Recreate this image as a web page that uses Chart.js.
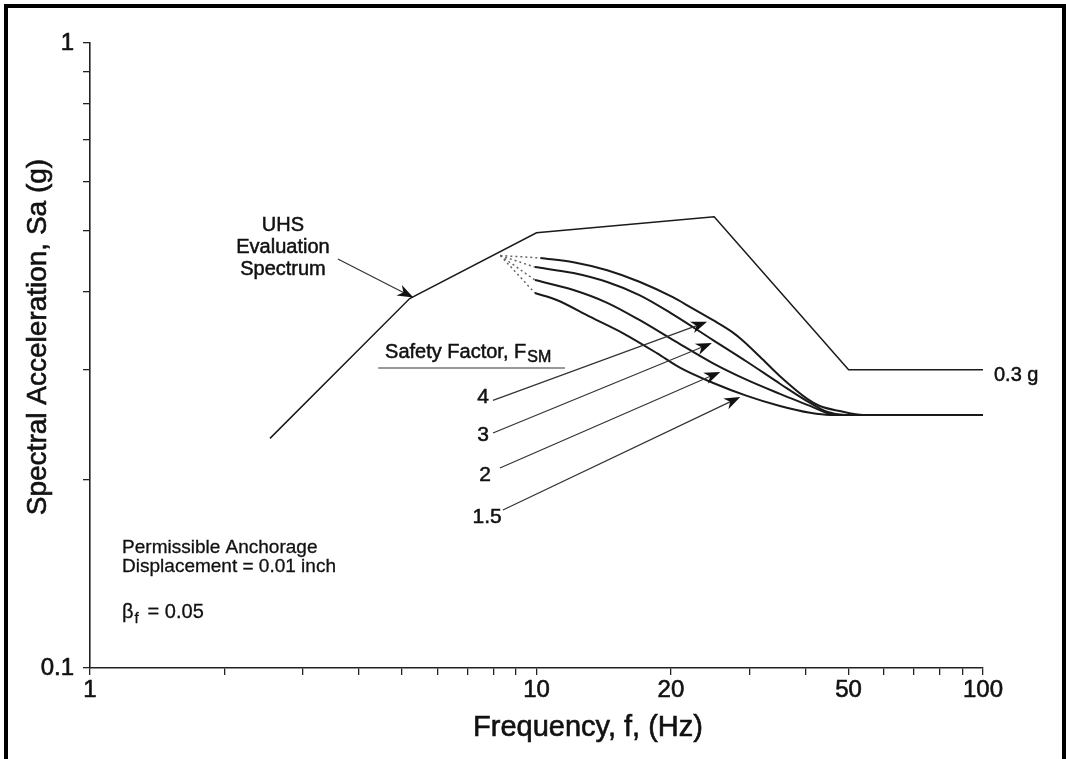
<!DOCTYPE html>
<html lang="en">
<head>
  <meta charset="UTF-8" />
  <title>UHS Evaluation Spectrum</title>
  <script src="https://cdn.jsdelivr.net/npm/chart.js"></script>
  <style>
    html, body {
      margin: 0;
      padding: 0;
      background: #fff;
      overflow: hidden;
    }
    .chart-box {
      position: absolute;
      left: 0;
      top: 0;
      width: 1066px;
      height: 759px;
    }
    /* scanned-figure frame: no bottom edge */
    .frame {
      position: absolute;
      left: 4px;
      top: 4px;
      width: 1054px;
      height: 800px;
      border: 4px solid #000;
      border-bottom: none;
      pointer-events: none;
    }
  </style>
</head>
<body>
  <div class="chart-box"><canvas id="spectrumChart"></canvas></div>
  <div class="frame"></div>

  <script>
    // axes
    const xTicks = [1, 2, 3, 4, 5, 6, 7, 8, 9, 10, 20, 30, 40, 50, 60, 70, 80, 90, 100];
    const xTickLabels = ['1', '', '', '', '', '', '', '', '', '10', '20', '', '', '50', '', '', '', '', '100'];
    const yTicks = [0.1, 0.2, 0.3, 0.4, 0.5, 0.6, 0.7, 0.8, 0.9, 1];
    const yTickLabels = ['0.1', '', '', '', '', '', '', '', '', '1'];

    // UHS evaluation spectrum
    const uhsFreq = [2.53, 5.2, 10, 25, 50, 100];
    const uhsSa = [0.233, 0.39, 0.497, 0.527, 0.3, 0.3];

    // safety factor curves (solid part)
    const fsm4Freq = [10.2, 12.1, 14.4, 17.0, 20.2, 22.1, 24.8, 27.4, 29.0, 31.7, 35.1, 40.4, 43.1, 47.8, 53.9, 100];
    const fsm4Sa = [0.453, 0.446, 0.433, 0.415, 0.392, 0.378, 0.3605, 0.345, 0.334, 0.3145, 0.293, 0.2695, 0.2625, 0.2577, 0.254, 0.254];

    const fsm3Freq = [9.92, 12.1, 14.4, 17.0, 20.2, 24.8, 29.6, 35.1, 41.0, 44.7, 49.1, 100];
    const fsm3Sa = [0.438, 0.4285, 0.4145, 0.395, 0.368, 0.335, 0.309, 0.285, 0.2655, 0.257, 0.254, 0.254];

    const fsm2Freq = [9.92, 12.1, 14.4, 17.0, 20.2, 24.8, 29.6, 35.1, 41.0, 45.4, 47.8, 100];
    const fsm2Sa = [0.4175, 0.4025, 0.384, 0.3605, 0.335, 0.3075, 0.289, 0.2745, 0.2626, 0.255, 0.254, 0.254];

    const fsm15Freq = [9.92, 11.1, 13.2, 15.6, 18.6, 21.0, 24.8, 29.6, 35.1, 41.0, 45.4, 100];
    const fsm15Sa = [0.398, 0.388, 0.3645, 0.3435, 0.319, 0.302, 0.286, 0.2725, 0.2625, 0.256, 0.254, 0.254];

    const fsmLabels = ['4', '3', '2', '1.5'];

    // dotted branches start on the UHS line
    const branchFreq = 8.3;
    const branchSa = 0.457;

    const toPoints = (xs, ys) => xs.map((x, i) => ({ x: x, y: ys[i] }));

    const ink = '#1a1a1a';
    const fontFamily = "'Liberation Sans', Arial, Helvetica, sans-serif";

    const curves = [
      toPoints(fsm4Freq, fsm4Sa),
      toPoints(fsm3Freq, fsm3Sa),
      toPoints(fsm2Freq, fsm2Sa),
      toPoints(fsm15Freq, fsm15Sa)
    ];

    const datasets = [{
      label: 'UHS Evaluation Spectrum',
      data: toPoints(uhsFreq, uhsSa),
      borderColor: ink,
      borderWidth: 1.5,
      tension: 0
    }];

    curves.forEach((pts, i) => {
      datasets.push({
        label: 'FSM ' + fsmLabels[i],
        data: pts,
        borderColor: ink,
        borderWidth: 2,
        cubicInterpolationMode: 'monotone'
      });
      datasets.push({
        label: 'branch ' + fsmLabels[i],
        data: [{ x: branchFreq, y: branchSa }, pts[0]],
        borderColor: '#666',
        borderWidth: 1.5,
        borderDash: [2, 3],
        tension: 0
      });
    });

    // where the arrows go: label position, arrow tail, arrow tip (data coords)
    const arrowSpecs = [
      { label: [7.59, 0.2714], from: [7.99, 0.268], to: [24.1, 0.358] },
      { label: [7.59, 0.2359], from: [7.99, 0.2377], to: [24.7, 0.331] },
      { label: [7.67, 0.2036], from: [8.28, 0.2089], to: [25.8, 0.2976] },
      { label: [7.75, 0.1744], from: [8.41, 0.179], to: [28.6, 0.2714] }
    ];

    function drawArrow(ctx, x1, y1, x2, y2) {
      const ang = Math.atan2(y2 - y1, x2 - x1);
      const len = 16, half = 6;
      const c = Math.cos(ang), s = Math.sin(ang);
      ctx.beginPath();
      ctx.moveTo(x1, y1);
      ctx.lineTo(x2 - c * len * 0.6, y2 - s * len * 0.6);
      ctx.stroke();
      ctx.beginPath();
      ctx.moveTo(x2, y2);
      ctx.lineTo(x2 - c * len + s * half, y2 - s * len - c * half);
      ctx.lineTo(x2 - c * len * 0.7, y2 - s * len * 0.7);
      ctx.lineTo(x2 - c * len - s * half, y2 - s * len + c * half);
      ctx.closePath();
      ctx.fill();
    }

    // filled text with a thin outline, so it reads as heavy as the scan
    function ink_text(ctx, str, x, y) {
      ctx.fillText(str, x, y);
      ctx.strokeText(str, x, y);
    }

    const annotationPlugin = {
      id: 'figureNotes',
      afterDatasetsDraw(chart) {
        const ctx = chart.ctx;
        const xs = chart.scales.x, ys = chart.scales.y;
        const px = f => xs.getPixelForValue(f);
        const py = s => ys.getPixelForValue(s);
        const area = chart.chartArea;

        ctx.save();
        ctx.fillStyle = '#111';
        ctx.strokeStyle = '#333';
        ctx.lineWidth = 1.2;

        // arrows to each curve (lines first)
        arrowSpecs.forEach(a => {
          drawArrow(ctx, px(a.from[0]), py(a.from[1]), px(a.to[0]), py(a.to[1]));
        });
        drawArrow(ctx, px(3.59), py(0.4513), px(5.3), py(0.3915));

        ctx.beginPath();
        ctx.moveTo(px(4.42), py(0.302));
        ctx.lineTo(px(11.58), py(0.302));
        ctx.stroke();

        // text
        ctx.strokeStyle = '#111';
        ctx.lineWidth = 0.5;
        ctx.textBaseline = 'middle';

        ctx.font = '20px ' + fontFamily;
        ctx.textAlign = 'center';
        const ux = px(2.705), uy = py(0.5096);
        ink_text(ctx, 'UHS', ux, uy);
        ink_text(ctx, 'Evaluation', ux, uy + 22);
        ink_text(ctx, 'Spectrum', ux, uy + 44);

        ctx.textAlign = 'left';
        const sx = px(4.58), sy = py(0.3203);
        const head = 'Safety Factor, F';
        ink_text(ctx, head, sx, sy);
        const hw = ctx.measureText(head).width;
        ctx.font = '16px ' + fontFamily;
        ink_text(ctx, 'SM', sx + hw + 1, sy + 6);

        ctx.font = '21px ' + fontFamily;
        ctx.textAlign = 'center';
        arrowSpecs.forEach((a, i) => {
          ink_text(ctx, fsmLabels[i], px(a.label[0]), py(a.label[1]));
        });

        ctx.font = '20px ' + fontFamily;
        ctx.textAlign = 'left';
        ink_text(ctx, '0.3 g', px(100) + 11, py(0.3) + 6);

        ctx.lineWidth = 0.3;
        ctx.font = '19px ' + fontFamily;
        ink_text(ctx, 'Permissible Anchorage', px(1.18), py(0.1556));
        ink_text(ctx, 'Displacement = 0.01 inch', px(1.18), py(0.145));
        ctx.font = '20px ' + fontFamily;
        const bx = px(1.18), by = py(0.1225);
        ink_text(ctx, '\u03B2', bx, by);
        const bw = ctx.measureText('\u03B2').width;
        ctx.font = '15px ' + fontFamily;
        ink_text(ctx, 'f', bx + bw + 1, by + 6);
        ctx.font = '20px ' + fontFamily;
        ink_text(ctx, '= 0.05', bx + bw + 14, by);

        // axis titles
        ctx.lineWidth = 0.6;
        ctx.font = '29px ' + fontFamily;
        ctx.textAlign = 'center';
        ink_text(ctx, 'Frequency, f, (Hz)', px(13.04), area.bottom + 60);
        ctx.translate(38, py(0.3385));
        ctx.rotate(-Math.PI / 2);
        ctx.font = '28px ' + fontFamily;
        ink_text(ctx, 'Spectral Acceleration, Sa (g)', 0, 0);
        ctx.restore();
      }
    };

    const tickFont = { family: fontFamily, size: 24 };

    new Chart(document.getElementById('spectrumChart'), {
      type: 'line',
      data: { datasets: datasets },
      options: {
        responsive: true,
        maintainAspectRatio: false,
        animation: false,
        layout: { padding: { top: 43, right: 83, left: 0, bottom: 0 } },
        elements: { point: { radius: 0 } },
        plugins: {
          legend: { display: false },
          tooltip: { enabled: false }
        },
        scales: {
          x: {
            type: 'logarithmic',
            min: 1,
            max: 100,
            afterBuildTicks: scale => { scale.ticks = xTicks.map(v => ({ value: v })); },
            afterFit: scale => { scale.height = 91; },
            grid: { drawOnChartArea: false, drawTicks: true, tickLength: 7, color: '#222', lineWidth: 1.3 },
            border: { display: true, color: '#222', width: 1.6 },
            ticks: {
              autoSkip: false,
              maxRotation: 0,
              padding: 1,
              color: '#111',
              textStrokeColor: '#111',
              textStrokeWidth: 0.6,
              font: tickFont,
              callback: (v, i) => xTickLabels[i]
            }
          },
          y: {
            type: 'logarithmic',
            min: 0.1,
            max: 1,
            afterBuildTicks: scale => { scale.ticks = yTicks.map(v => ({ value: v })); },
            afterFit: scale => { scale.width = 90; },
            grid: { drawOnChartArea: false, drawTicks: true, tickLength: 7, color: '#222', lineWidth: 1.3 },
            border: { display: true, color: '#222', width: 1.6 },
            ticks: {
              autoSkip: false,
              padding: 9,
              color: '#111',
              textStrokeColor: '#111',
              textStrokeWidth: 0.6,
              font: tickFont,
              callback: (v, i) => yTickLabels[i]
            }
          }
        }
      },
      plugins: [annotationPlugin]
    });
  </script>
</body>
</html>
